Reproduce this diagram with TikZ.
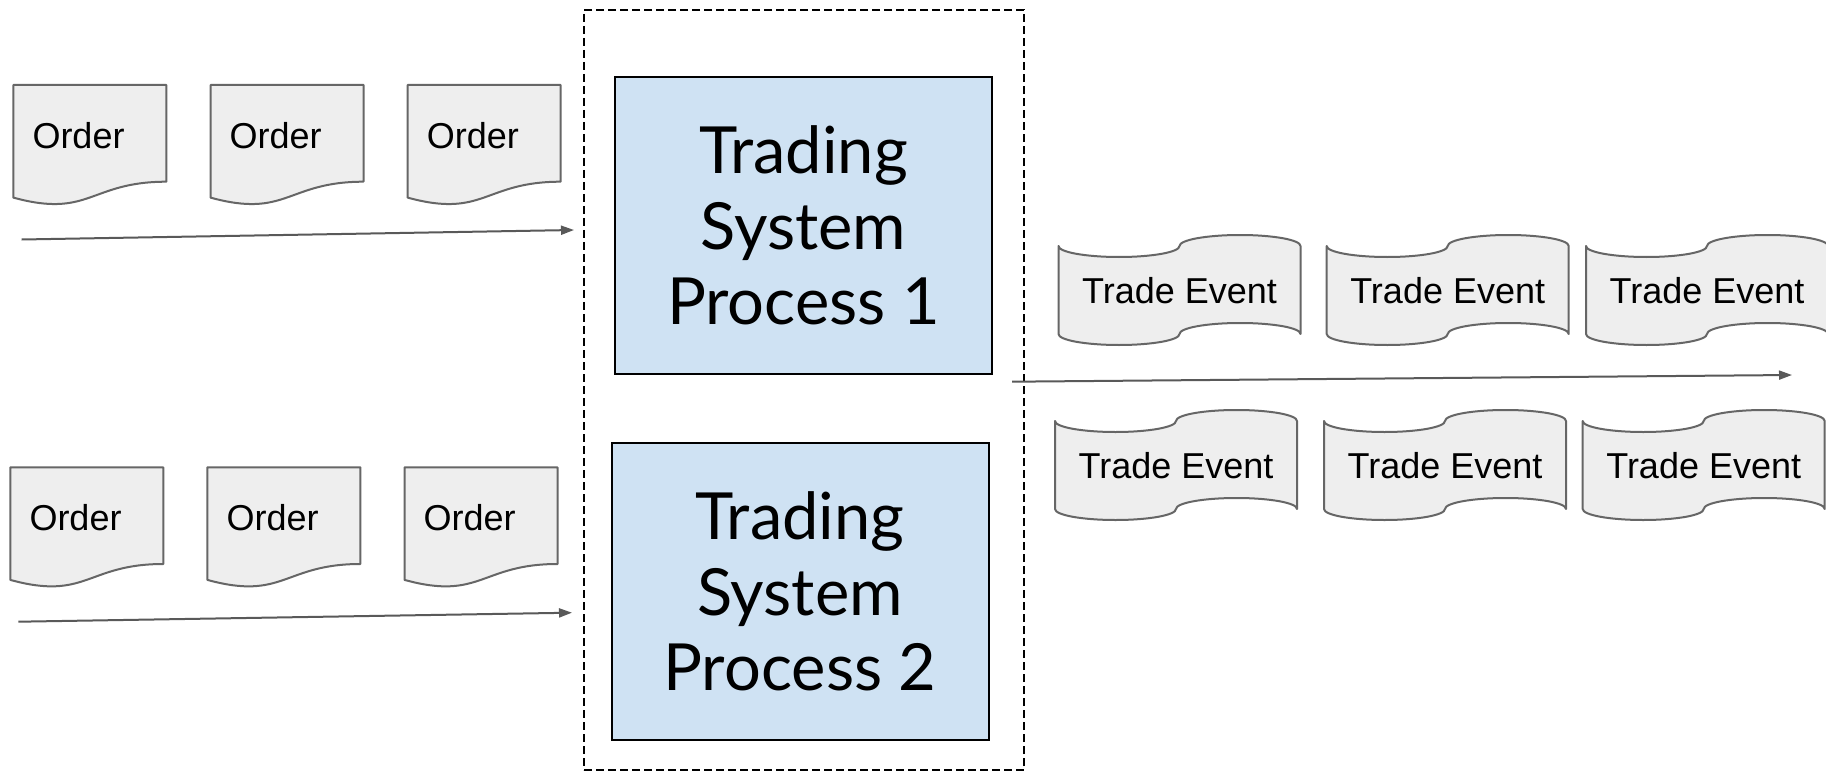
\documentclass[tikz,border=0pt]{standalone}
\usepackage{fontspec}
\setmainfont{Liberation Sans}
\newfontfamily\procfont{Lato}
\usetikzlibrary{arrows.meta}
\definecolor{docfill}{HTML}{EEEEEE}
\definecolor{docline}{HTML}{666666}
\definecolor{procfill}{HTML}{CFE2F3}
\definecolor{arrowgray}{HTML}{595959}
\tikzset{
  docshape/.style={draw=docline, fill=docfill, line width=2pt, line join=round},
  doctext/.style={inner sep=0pt, font=\fontsize{36}{43}\selectfont},
  procbox/.style={draw=black, fill=procfill, line width=2pt, minimum width=377pt, minimum height=297pt,
    align=center, inner sep=0pt, font=\procfont\fontsize{65}{75.5}\selectfont},
  groupbox/.style={draw=black, dashed, dash pattern=on 8pt off 4pt, line width=1.6pt,
    minimum width=440pt, minimum height=760pt, inner sep=0pt},
  flowarrow/.style={draw=arrowgray, line width=2pt, -{Triangle[length=13pt,width=9pt]}}
}
\newcommand\OrderDoc[3]{%
  \draw[docshape] (#2,#3) -- ({#2+153},#3) -- ({#2+153},{#3+96.7})
    .. controls ({#2+76.5},{#3+96.7}) and ({#2+76.5},{#3+133.6}) .. (#2,{#3+112.6}) -- cycle;
  \node[doctext, anchor=base west] (#1) at ({#2+19},{#3+63.3}) {Order};
}
\newcommand\TapeDoc[3]{%
  \draw[docshape] (#2,{#3+11})
    arc[start angle=180,end angle=360,x radius=60.5pt,y radius=11pt]
    arc[start angle=180,end angle=0,x radius=60.5pt,y radius=11pt]
    -- ({#2+242},{#3+99})
    arc[start angle=0,end angle=180,x radius=60.5pt,y radius=11pt]
    arc[start angle=0,end angle=-180,x radius=60.5pt,y radius=11pt]
    -- cycle;
  \node[doctext, anchor=base] (#1) at ({#2+121},{#3+68}) {Trade Event};
}
\begin{document}
\begin{tikzpicture}[x=1pt,y=-1pt]
\useasboundingbox (0,0) rectangle (1826,773);
\fill[white] (0,0) rectangle (1826,773);

% group and processes
\node[groupbox] (grp) at (804,390) {};
\node[procbox] (p1) at (803.5,225.5) {Trading\\System\\Process 1};
\node[procbox] (p2) at (800,591.5) {Trading\\System\\Process 2};

% orders, top row
\OrderDoc{o1}{13.3}{85}
\OrderDoc{o2}{210.5}{85}
\OrderDoc{o3}{407.6}{85}
% orders, bottom row
\OrderDoc{o4}{10.3}{467.3}
\OrderDoc{o5}{207.4}{467.3}
\OrderDoc{o6}{404.5}{467.3}

% trade events, top row
\TapeDoc{t1}{1058.5}{235}
\TapeDoc{t2}{1326.7}{235}
\TapeDoc{t3}{1586}{235}
% trade events, bottom row
\TapeDoc{t4}{1055}{410}
\TapeDoc{t5}{1324}{410}
\TapeDoc{t6}{1582.7}{410}

% arrows
\coordinate (in1s) at (21.7,239.5);
\coordinate (in1e) at (574,230);
\coordinate (in2s) at (18.4,621.7);
\coordinate (in2e) at (572,612.7);
\coordinate (outs) at (1012,381.7);
\coordinate (oute) at (1792,375);
\draw[flowarrow] (in1s) -- (in1e);
\draw[flowarrow] (in2s) -- (in2e);
\draw[flowarrow] (outs) -- (oute);
\end{tikzpicture}
\end{document}
